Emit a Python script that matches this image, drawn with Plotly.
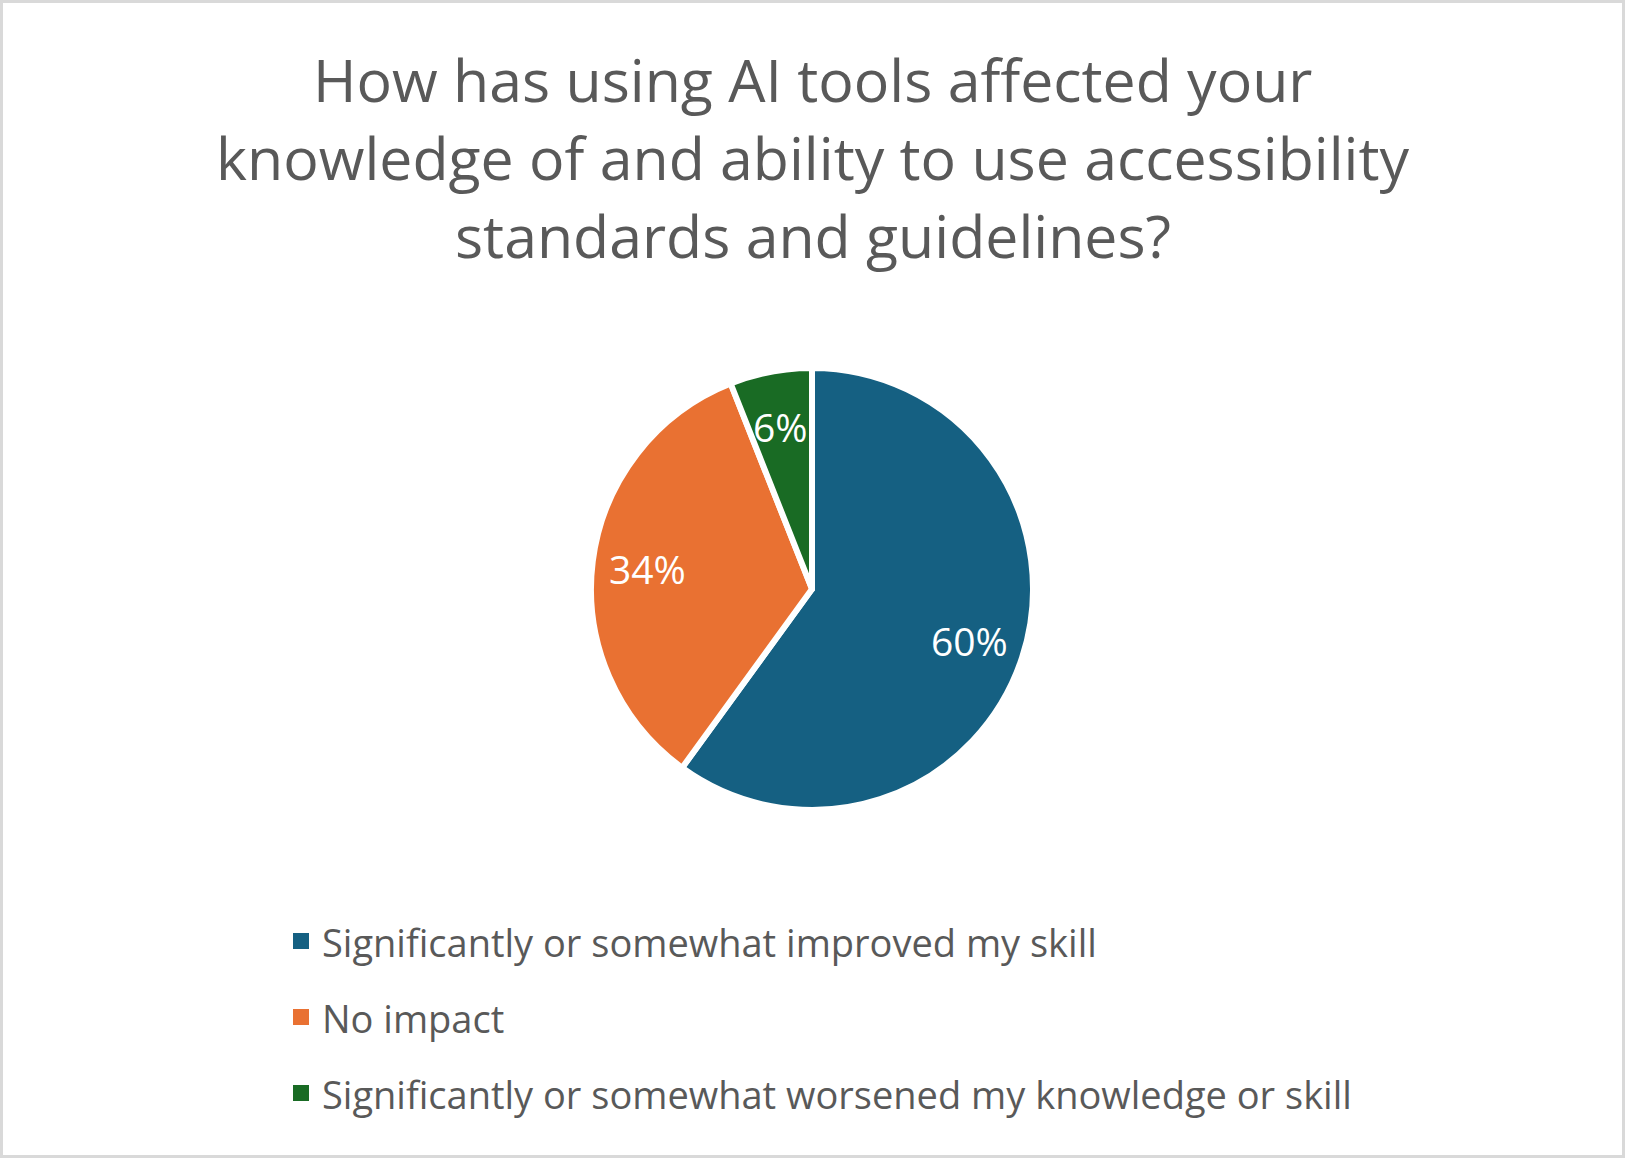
import math
import plotly.graph_objects as go

labels = [
    "Significantly or somewhat improved my skill",
    "No impact",
    "Significantly or somewhat worsened my knowledge or skill",
]
values = [60, 34, 6]
colors = ["#156082", "#E97132", "#196B24"]
title_lines = [
    "How has using AI tools affected your",
    "knowledge of and ability to use accessibility",
    "standards and guidelines?",
]

W, H = 1625, 1158
FONT = "Open Sans"
TXT = "#595959"

CX, CY, R = 812, 589, 221
LABEL_R = 0.75

fig = go.Figure(
    go.Pie(
        labels=labels,
        values=values,
        marker=dict(colors=colors, line=dict(color="white", width=6)),
        sort=False,
        direction="clockwise",
        rotation=0,
        textinfo="none",
        showlegend=False,
        hoverinfo="label+percent",
        domain=dict(x=[(CX - R) / W, (CX + R) / W], y=[(H - CY - R) / H, (H - CY + R) / H]),
    )
)

annotations = []

# percentage labels placed at the middle angle of each slice
total = sum(values)
cum = 0
for v in values:
    mid = (cum + v / 2) / total * 2 * math.pi
    cum += v
    px = CX + LABEL_R * R * math.sin(mid)
    py = CY - LABEL_R * R * math.cos(mid)
    annotations.append(dict(
        text=f"{round(v / total * 100)}%", x=px / W, y=1 - py / H,
        xref="paper", yref="paper", xanchor="center", yanchor="middle",
        showarrow=False, font=dict(family=FONT, size=39, color="white"),
    ))

title_y = [79, 157, 235]
for line, yc in zip(title_lines, title_y):
    annotations.append(dict(
        text=line, x=0.5, y=1 - yc / H, xref="paper", yref="paper",
        xanchor="center", yanchor="middle", showarrow=False,
        font=dict(family=FONT, size=59, color=TXT),
    ))

shapes = []
leg_y = [941, 1017, 1093]
for lab, col, yc in zip(labels, colors, leg_y):
    shapes.append(dict(
        type="rect", xref="paper", yref="paper",
        x0=293 / W, x1=309 / W, y0=1 - (yc + 8) / H, y1=1 - (yc - 8) / H,
        fillcolor=col, line=dict(width=0),
    ))
    annotations.append(dict(
        text=lab, x=320 / W, y=1 - (yc + 1) / H, xref="paper", yref="paper",
        xanchor="left", yanchor="middle", showarrow=False,
        font=dict(family=FONT, size=38, color=TXT),
    ))

shapes.append(dict(
    type="rect", xref="paper", yref="paper", x0=0, x1=1, y0=0, y1=1,
    line=dict(color="#D9D9D9", width=6), fillcolor="rgba(0,0,0,0)",
))

fig.update_layout(
    width=W, height=H,
    margin=dict(l=0, r=0, t=0, b=0),
    paper_bgcolor="white", plot_bgcolor="white",
    annotations=annotations, shapes=shapes,
)

fig.write_html(
    "out.html",
    config={"displayModeBar": False},
    post_script="document.body.style.margin='0px';",
)
